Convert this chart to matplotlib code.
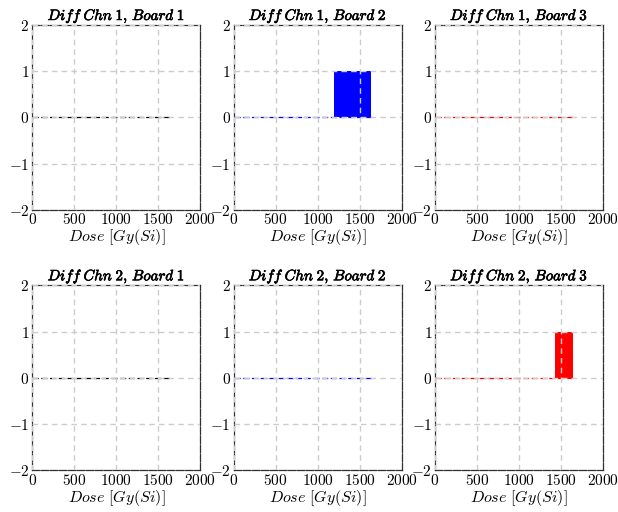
import matplotlib
matplotlib.use('Agg')
import matplotlib.pyplot as plt
import matplotlib.patheffects as pe

plt.rcParams['mathtext.fontset'] = 'cm'
plt.rcParams['font.family'] = 'serif'
plt.rcParams['font.serif'] = ['cmr10', 'DejaVu Serif']
plt.rcParams['axes.formatter.use_mathtext'] = True
plt.rcParams['axes.unicode_minus'] = True

channels = [1, 2]
boards = [1, 2, 3]
board_colors = ['black', 'blue', 'red']
dose_max = 1650  # last dose reached in the run [Gy(Si)]
# error bursts (start dose, end dose, error value) per channel, per board
bursts = {
    (1, 1): [],
    (1, 2): [(1190, 1630, 1)],
    (1, 3): [],
    (2, 1): [],
    (2, 2): [],
    (2, 3): [(1430, 1640, 1)],
}
xticks = [0, 500, 1000, 1500, 2000]
yticks = [-2, -1, 0, 1, 2]

fig, axes = plt.subplots(2, 3, figsize=(6.18, 5.12), dpi=100)
fig.subplots_adjust(left=0.052, right=0.976, top=0.951, bottom=0.082,
                    wspace=0.197, hspace=0.41)

for i, chn in enumerate(channels):
    for j, brd in enumerate(boards):
        ax = axes[i, j]
        col = board_colors[j]
        ax.plot([0, dose_max], [0, 0], '--', color=col, lw=0.9,
                dashes=(5, 2), zorder=1)
        for start, end, val in bursts[(chn, brd)]:
            ax.fill_between([start, end], 0, val, color=col, lw=0, zorder=1)

        ax.set_xlim(0, 2000)
        ax.set_ylim(-2, 2)
        ax.set_xticks(xticks)
        ax.set_yticks(yticks)
        ax.tick_params(length=0, labelsize=11, pad=2)
        ax.grid(True, ls='--', color='#cccccc', lw=1.0, dashes=(4, 3))
        ax.set_axisbelow(False)
        for s in ax.spines.values():
            s.set_linestyle((0, (6, 1.2)))
            s.set_color('#303030')
            s.set_linewidth(0.9)

        t = ax.set_title(r'$\mathit{Diff\;Chn\;%d,\,Board\;%d}$' % (chn, brd),
                         fontsize=10.8, pad=2)
        t.set_path_effects([pe.withStroke(linewidth=0.45, foreground='black')])
        ax.set_xlabel(r'$Dose\ [Gy(Si)]$', fontsize=11.5, labelpad=0)

fig.savefig('out.png', dpi=100)
